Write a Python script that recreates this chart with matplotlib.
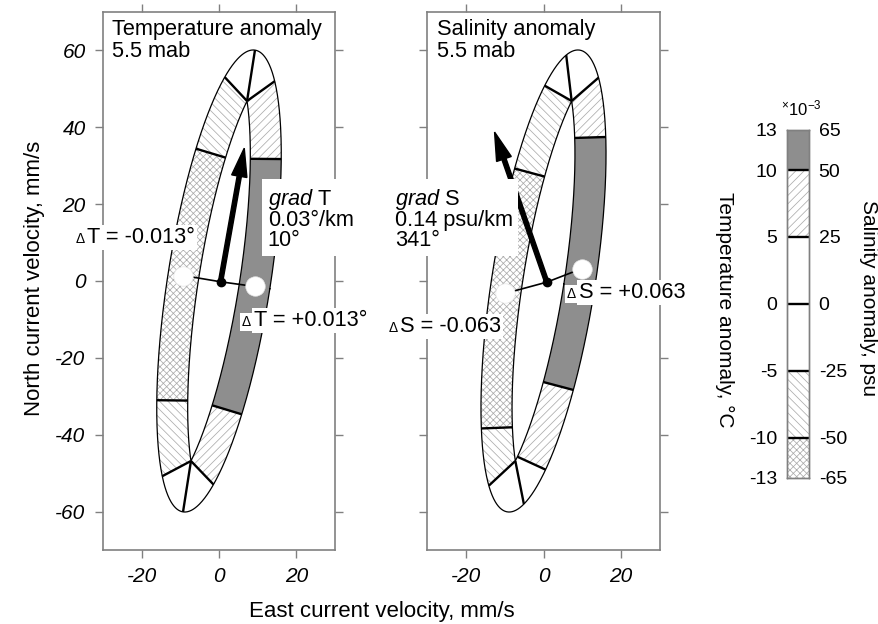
import numpy as np
import matplotlib
matplotlib.use("Agg")
import matplotlib.pyplot as plt

plt.rcParams['font.family'] = ['Liberation Sans', 'DejaVu Sans']
plt.rcParams['mathtext.fontset'] = 'custom'
plt.rcParams['mathtext.rm'] = 'Liberation Sans'
plt.rcParams['mathtext.it'] = 'Liberation Sans:italic'
plt.rcParams['hatch.linewidth'] = 0.55

# tidal current ellipse (mm/s), inclination in deg clockwise from north
ell_major = 60.8
ell_minor = 13.3
ell_incl = 8.8

# colour-bar levels (x1e-3)
temp_levels = [-13, -10, -5, 0, 5, 10, 13]
sal_levels = [-65, -50, -25, 0, 25, 50, 65]

# phase along the ellipse (deg) where the anomaly crosses each level
temp_cross_level = [10, 5, 0, -5, -10, -10, -5, 0, 5, 10]
temp_cross_phase = [33.8, 61.8, 90, 120, 147, 213, 239.6, 270, 300.2, 326.7]
sal_cross_level = [50, 25, 0, -25, -50, -50, -25, 0, 25, 50]
sal_cross_phase = [40.5, 63.6, 104, 124.2, 152.8, 221.6, 244.3, 287, 307.2, 333.8]

# phase of the extreme anomaly (white markers)
temp_peak_phase = [0, 180]
sal_peak_phase = [4.5, 184.5]

# mean current (mm/s) and gradient direction (deg)
temp_mean = (0.4, -0.2)
sal_mean = (0.85, -0.3)
temp_grad_dir = 10
sal_grad_dir = 341

BAND = 8.0  # width of the ring, mm/s
GRAY = '#8e8e8e'
HATCH_C = '#acacac'
th = np.deg2rad(ell_incl)


def to_xy(u, v):
    x = u * np.cos(th) + v * np.sin(th)
    y = -u * np.sin(th) + v * np.cos(th)
    return x, y


def outer_uv(t):
    return ell_minor * np.cos(t), ell_major * np.sin(t)


def inner_uv(t, d):
    a, b = ell_major, ell_minor
    u, v = b * np.cos(t), a * np.sin(t)
    nu, nv = np.cos(t) / b, np.sin(t) / a
    nn = np.hypot(nu, nv)
    ui, vi = u - d * nu / nn, v - d * nv / nn
    c2 = ((d / b) ** 2 - (b / a) ** 2) / (1 - (b / a) ** 2)
    if c2 > 0:
        tc = np.arccos(np.sqrt(c2))
        vc = a * np.sin(tc) - d * (np.sin(tc) / a) / np.hypot(np.cos(tc) / b, np.sin(tc) / a)
        mask = np.abs(np.cos(t)) < np.sqrt(c2)
        ui = np.where(mask, 0.0, ui)
        vi = np.where(mask, np.sign(np.sin(t)) * vc, vi)
    return ui, vi


def style_for(rep, mid, hi):
    if rep > hi:
        return dict(facecolor=GRAY, hatch=None)
    if rep > mid:
        return dict(facecolor='white', hatch='////')
    if rep < -hi:
        return dict(facecolor='white', hatch='xxxxx')
    if rep < -mid:
        return dict(facecolor='white', hatch='\\\\\\\\')
    return None


def draw_ring(ax, phases, levels, mid, hi):
    n = len(phases)
    for i in range(n):
        p1, p2 = phases[i], phases[(i + 1) % n]
        if p2 <= p1:
            p2 += 360
        l1, l2 = levels[i], levels[(i + 1) % n]
        rep = l1 + np.sign(l1) if l1 == l2 else (l1 + l2) / 2
        st = style_for(rep, mid, hi)
        if st is None:
            continue
        t = np.deg2rad(np.linspace(p1, p2, 80))
        xo, yo = to_xy(*outer_uv(t))
        xi, yi = to_xy(*inner_uv(t, BAND))
        ax.fill(np.r_[xo, xi[::-1]], np.r_[yo, yi[::-1]], facecolor=st['facecolor'],
                edgecolor=HATCH_C, hatch=st['hatch'], lw=0, zorder=1)
    t = np.deg2rad(np.linspace(0, 360, 721))
    ax.plot(*to_xy(*outer_uv(t)), color='k', lw=0.9, zorder=2)
    ax.plot(*to_xy(*inner_uv(t, BAND)), color='k', lw=0.9, zorder=2)
    for p in phases:
        tp = np.deg2rad(np.array([p]))
        xo, yo = to_xy(*outer_uv(tp))
        xi, yi = to_xy(*inner_uv(tp, BAND))
        ax.plot([xo[0], xi[0]], [yo[0], yi[0]], color='k', lw=1.7, zorder=2,
                solid_capstyle='butt')


def draw_vector(ax, mean, peaks, direction, length):
    tp = np.deg2rad(np.array(peaks))
    cx, cy = to_xy(*inner_uv(tp, BAND / 2))
    for x, y in zip(cx, cy):
        ax.plot([mean[0], x], [mean[1], y], color='k', lw=1.2, zorder=3)
    ax.plot(cx, cy, 'o', ms=14, mfc='white', mec='#e6e6e6', mew=0.5, zorder=4)
    d = np.deg2rad(direction)
    ax.arrow(mean[0], mean[1], length * np.sin(d), length * np.cos(d), width=1.1,
             head_width=4.0, head_length=7.4, length_includes_head=True,
             fc='k', ec='k', zorder=5)
    ax.plot(mean[0], mean[1], 'o', ms=6, color='k', zorder=6)


def anomaly_label(ax, x, y, txt):
    # small delta sign followed by the value, both on white boxes
    d = ax.text(x, y, 'Δ', ha='left', va='baseline', fontsize=10, zorder=9,
                clip_on=False, bbox=dict(boxstyle='square,pad=0.15', fc='white', ec='none'))
    ax.annotate(txt, xy=(1, 0), xycoords=d, xytext=(2, -1.3), textcoords='offset points',
                ha='left', va='bottom', fontsize=15.7, zorder=8, annotation_clip=False,
                bbox=dict(boxstyle='square,pad=0.1', fc='white', ec='none'))


def style_axes(ax, left_labels):
    ax.set_xlim(-30, 30)
    ax.set_ylim(-70, 70)
    ax.set_xticks([-20, 0, 20], ['-20', '0', '20'], fontstyle='italic')
    yt = [-60, -40, -20, 0, 20, 40, 60]
    ax.set_yticks(yt, [str(v) for v in yt], fontstyle='italic')
    ax.tick_params(direction='out', length=6, width=1, color='#808080', top=True,
                   right=True, labelsize=15, pad=6.5, labelleft=left_labels)
    for s in ax.spines.values():
        s.set_color('#808080')
        s.set_linewidth(1.2)


fig = plt.figure(figsize=(8.79, 6.24), dpi=100)
ax1 = fig.add_axes([103 / 879, 74 / 624, 232 / 879, 538 / 624])
ax2 = fig.add_axes([427 / 879, 74 / 624, 233 / 879, 538 / 624])

# temperature panel
draw_ring(ax1, temp_cross_phase, temp_cross_level, 5, 10)
draw_vector(ax1, temp_mean, temp_peak_phase, temp_grad_dir, 35.3)
style_axes(ax1, True)
ax1.text(0.039, 0.987, 'Temperature anomaly\n5.5 mab', transform=ax1.transAxes,
         ha='left', va='top', fontsize=15.7, linespacing=1.05)
ax1.text(12.6, 24.5, '$\\mathit{grad}$ T\n0.03°/km\n10°', ha='left', va='top',
         fontsize=15.7, linespacing=0.9, zorder=8,
         bbox=dict(boxstyle='square,pad=0.25', fc='white', ec='none'))
anomaly_label(ax1, -37.2, 9.8, 'T = -0.013°')
anomaly_label(ax1, 5.9, -11.8, 'T = +0.013°')

# salinity panel
draw_ring(ax2, sal_cross_phase, sal_cross_level, 25, 50)
draw_vector(ax2, sal_mean, sal_peak_phase, sal_grad_dir, 41.3)
style_axes(ax2, False)
ax2.text(0.043, 0.987, 'Salinity anomaly\n5.5 mab', transform=ax2.transAxes,
         ha='left', va='top', fontsize=15.7, linespacing=1.05)
ax2.text(-38.3, 24.5, '$\\mathit{grad}$ S\n0.14 psu/km\n341°', ha='left', va='top',
         fontsize=15.7, linespacing=0.9, zorder=8,
         bbox=dict(boxstyle='square,pad=0.25', fc='white', ec='none'))
anomaly_label(ax2, 6.0, -4.5, 'S = +0.063')
anomaly_label(ax2, -40.0, -13.4, 'S = -0.063')

fig.text(35 / 879, 1 - 278 / 624, 'North current velocity, mm/s', rotation=90,
         ha='center', va='center', fontsize=16)
fig.text(382 / 879, 1 - 612 / 624, 'East current velocity, mm/s',
         ha='center', va='center', fontsize=16)

# colour bar
cax = fig.add_axes([787 / 879, 146.3 / 624, 22 / 879, 347.7 / 624])
cax.set_xlim(0, 1)
cax.set_ylim(temp_levels[0], temp_levels[-1])
for lo, hi in zip(temp_levels[:-1], temp_levels[1:]):
    st = style_for((lo + hi) / 2, 5, 10)
    if st is not None:
        cax.fill_between([0, 1], lo, hi, facecolor=st['facecolor'], edgecolor=HATCH_C,
                         hatch=st['hatch'], lw=0)
cax.hlines(temp_levels[1:-1], 0, 1, color='k', lw=1.7)
cax.set_xticks([])
cax.set_yticks(temp_levels, [str(v) for v in temp_levels])
cax.tick_params(axis='y', length=0, pad=7, labelsize=14)
for s in cax.spines.values():
    s.set_color('#808080')
    s.set_linewidth(1)
cax2 = cax.twinx()
cax2.set_ylim(sal_levels[0], sal_levels[-1])
cax2.set_yticks(sal_levels, [str(v) for v in sal_levels])
cax2.tick_params(axis='y', length=0, pad=7, labelsize=14)
for s in cax2.spines.values():
    s.set_color('#808080')
    s.set_linewidth(1)

fig.text(781 / 879, 1 - 115 / 624, '$^{\\times}$10$^{-3}$', fontsize=12,
         ha='left', va='baseline')
fig.text(725 / 879, 1 - 310 / 624, 'Temperature anomaly, °C', rotation=270,
         ha='center', va='center', fontsize=15)
fig.text(869 / 879, 1 - 298 / 624, 'Salinity anomaly, psu', rotation=270,
         ha='center', va='center', fontsize=15)

fig.savefig('out.png', dpi=100)
